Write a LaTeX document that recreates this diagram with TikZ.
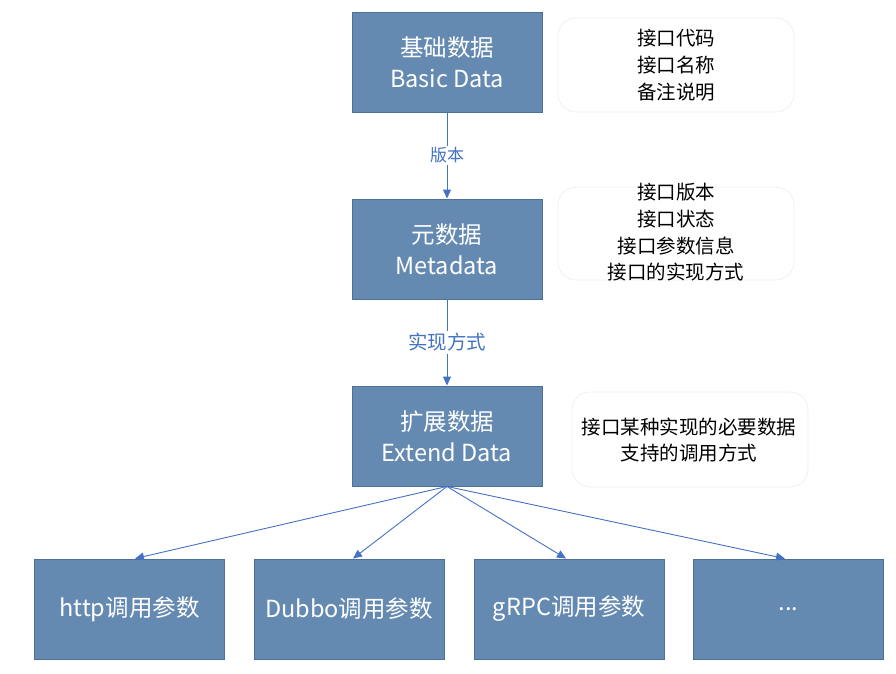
\documentclass[tikz,border=0pt]{standalone}
\usepackage{fontspec}
\setmainfont{Noto Sans CJK SC}
\usetikzlibrary{arrows.meta}
\definecolor{boxfill}{HTML}{658AB2}
\definecolor{boxline}{HTML}{4E6F98}
\definecolor{arrowc}{HTML}{4472C4}
\definecolor{noteline}{HTML}{EEF0F6}
\tikzset{
  mainbox/.style={draw=boxline, line width=0.9pt, fill=boxfill, text=white,
    minimum width=190pt, minimum height=100pt, inner sep=0pt, align=center,
    font=\fontsize{23.5}{31}\selectfont},
  notebox/.style={draw=noteline, line width=0.8pt, rounded corners=18pt, fill=white,
    minimum width=236pt, minimum height=94pt, inner sep=0pt},
  notetext/.style={align=center, font=\fontsize{19.5}{26.7}\selectfont, inner sep=0pt},
  conn/.style={draw=arrowc, line width=0.9pt, -{Triangle[length=9pt,width=8pt]}},
  connlabel/.style={fill=white, text=arrowc, inner sep=2pt},
}
\begin{document}
\begin{tikzpicture}[x=1pt,y=-1pt]
\useasboundingbox (0,0) rectangle (896,674);
% main boxes
\node[mainbox] (basic) at (447,62) {基础数据\\Basic Data};
\node[mainbox] (meta) at (447,249) {元数据\\Metadata};
\node[mainbox] (ext) at (447,436) {扩展数据\\Extend Data};
\node[mainbox] (http) at (129.5,609) {http调用参数};
\node[mainbox] (dubbo) at (349,609) {Dubbo调用参数};
\node[mainbox] (grpc) at (569,609) {gRPC调用参数};
\node[mainbox] (more) at (788.5,609) {...};
% note boxes
\node[notebox] (n1) at (676,65) {};
\node[notetext] (t1) at (676,65) {接口代码\\接口名称\\备注说明};
\node[notebox, minimum height=93pt] (n2) at (676,233.5) {};
\node[notetext] (t2) at (676,232.5) {接口版本\\接口状态\\接口参数信息\\接口的实现方式};
\node[notebox, minimum height=95pt] (n3) at (690,439.5) {};
\node[notetext] (t3) at (689,440) {接口某种实现的必要数据\\支持的调用方式};
% connectors
\draw[conn] (basic.south) -- node[connlabel, font=\fontsize{17}{20}\selectfont] (l1) {版本} (meta.north);
\draw[conn] (meta.south) -- node[connlabel, font=\fontsize{19.5}{23}\selectfont] (l2) {实现方式} (ext.north);
\draw[conn] (ext.south) -- ([xshift=5.5pt]http.north);
\draw[conn] (ext.south) -- ([xshift=4pt]dubbo.north);
\draw[conn] (ext.south) -- ([xshift=-3pt]grpc.north);
\draw[conn] (ext.south) -- ([xshift=-3.5pt]more.north);
\end{tikzpicture}
\end{document}
